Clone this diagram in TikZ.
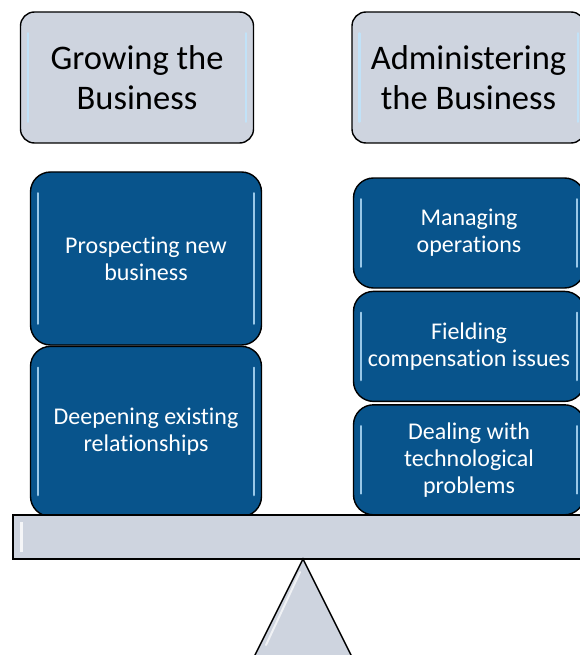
\documentclass[tikz,border=0pt]{standalone}
\usepackage{fontspec}
\setmainfont[Ligatures={NoCommon,NoRare}]{Carlito}
\usetikzlibrary{positioning, calc}

\definecolor{paneblue}{RGB}{8,84,140}
\definecolor{panegray}{RGB}{206,212,223}
\definecolor{glint}{RGB}{190,230,255}

\tikzset{
  headbox/.style={draw=black, line width=1.4pt, rounded corners=14pt, fill=panegray,
    minimum width=233pt, minimum height=131pt, inner sep=0pt, align=center,
    font=\fontsize{34.5}{40}\selectfont},
  taskbox/.style={draw=black, line width=1.4pt, rounded corners=20pt, fill=paneblue,
    text=white, minimum width=231pt, inner sep=0pt, align=center,
    font=\fontsize{24}{27}\selectfont},
  gloss/.style={glint, line width=2.4pt, line cap=round, opacity=0.8},
}

\begin{document}
\begin{tikzpicture}[x=1pt, y=-1pt]
    \useasboundingbox (0,0) rectangle (580,655);
    \clip (0,0) rectangle (580,655);
    % headers
    \node[headbox] (grow) at (137,77.5) {Growing the\\Business};
    \node[headbox] (admin) at (468.5,77.5) {Administering\\the Business};
    % left pan
    \node[taskbox, minimum height=173pt] (prospect) at (146,258.5) {Prospecting new\\business};
    \node[taskbox, minimum height=170pt, below=0pt of prospect] (deepen) {Deepening existing\\relationships};
    % right pan
    \node[taskbox, minimum height=110pt] (manage) at (469,233) {Managing\\operations};
    \node[taskbox, minimum height=110pt, below=2pt of manage] (field) {Fielding\\compensation issues};
    \node[taskbox, minimum height=110pt, below=2pt of field] (tech) {Dealing with\\technological\\problems};
    % gloss on the boxes
    \foreach \n in {grow, admin, prospect, deepen, manage, field, tech} {
        \draw[gloss] ($(\n.north west)+(8,22)$) -- ($(\n.south west)+(8,-22)$);
        \draw[gloss] ($(\n.north east)+(-8,22)$) -- ($(\n.south east)+(-8,-22)$);
    }
    % beam and pivot
    \draw[fill=panegray, line width=1.4pt] (13,515) rectangle (600,559);
    \draw[white, line width=3pt, opacity=0.8] (21,522) -- (21,552);
    \coordinate (apex) at (303,559);
    \draw[fill=panegray, line width=1.4pt] (apex) -- (356,665) -- (250,665) -- cycle;
    \draw[white, line width=2pt, opacity=0.7, line cap=round] (300,572) -- (266,645);
\end{tikzpicture}
\end{document}
